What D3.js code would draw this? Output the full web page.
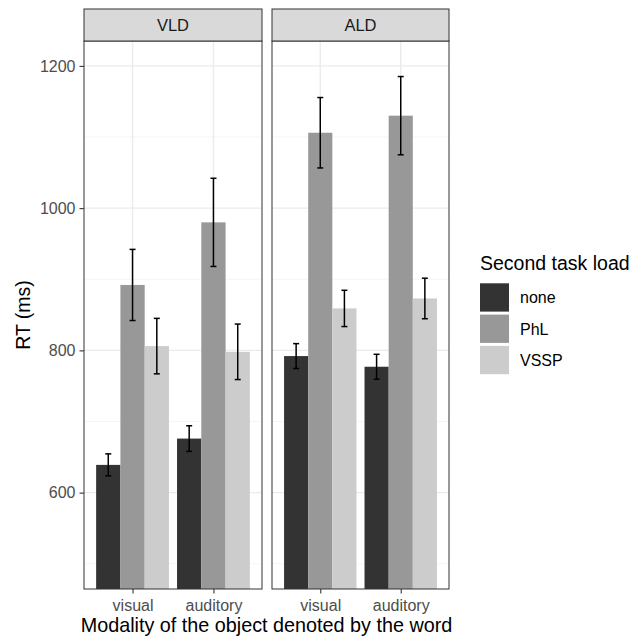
<!DOCTYPE html>
<html>
  <head>
    <meta charset="UTF-8" />
    <title>RT by modality and second task load</title>
    <style>
      body { margin: 0; background: #fff; }
      text { font-family: 'Liberation Sans', Arial, sans-serif; }
    </style>
  </head>
  <body>
    <svg width="644" height="638"></svg>
    <script src="https://cdnjs.cloudflare.com/ajax/libs/d3/7.8.5/d3.min.js"></script>
    <script>
      const tasks = ['VLD', 'ALD'];
      const modalities = ['visual', 'auditory'];
      const loads = ['none', 'PhL', 'VSSP'];
      const loadColors = ['#333333', '#989898', '#cccccc'];

      // mean RT per task -> modality -> load (none, PhL, VSSP)
      const rtVLDvisual = [639, 892, 806];
      const rtVLDauditory = [676, 980, 798];
      const rtALDvisual = [792, 1106, 859];
      const rtALDauditory = [777, 1130, 873];

      // half-width of error bars
      const errVLDvisual = [15.5, 50, 39];
      const errVLDauditory = [18, 62, 39];
      const errALDvisual = [17.5, 49.5, 25.5];
      const errALDauditory = [17.5, 55, 28.5];

      const yTicks = [600, 800, 1000, 1200];
      const yMinor = [500, 700, 900, 1100];

      const rows = [];
      const addRows = (task, modality, rt, err) => {
        loads.forEach((load, i) => {
          rows.push({ task, modality, load, rt: rt[i], err: err[i] });
        });
      };
      addRows('VLD', 'visual', rtVLDvisual, errVLDvisual);
      addRows('VLD', 'auditory', rtVLDauditory, errVLDauditory);
      addRows('ALD', 'visual', rtALDvisual, errALDvisual);
      addRows('ALD', 'auditory', rtALDauditory, errALDauditory);

      const svg = d3.select('svg');
      const fontFamily = "'Liberation Sans', Arial, sans-serif";
      const tickSize = 16;

      const panelTop = 41;
      const panelBottom = 589;
      const stripTop = 9;
      const panelX = [
        [84, 262],
        [272, 449],
      ];

      const yScale = d3
        .scaleLinear()
        .domain([464.5, 1235])
        .range([panelBottom, panelTop]);

      const colorScale = d3.scaleOrdinal().domain(loads).range(loadColors);

      tasks.forEach((task, ti) => {
        const [x0, x1] = panelX[ti];
        const xScale = d3
          .scalePoint()
          .domain(modalities)
          .range([x0, x1])
          .padding(0.6);
        const step = xScale.step();
        const dodge = d3
          .scaleBand()
          .domain(loads)
          .range([-0.45 * step, 0.45 * step]);

        const g = svg.append('g');

        // panel background and grid
        g.append('rect')
          .attr('x', x0)
          .attr('y', panelTop)
          .attr('width', x1 - x0)
          .attr('height', panelBottom - panelTop)
          .attr('fill', '#fff');

        g.selectAll('.minor')
          .data(yMinor)
          .enter()
          .append('line')
          .attr('x1', x0)
          .attr('x2', x1)
          .attr('y1', (d) => yScale(d))
          .attr('y2', (d) => yScale(d))
          .attr('stroke', '#f2f2f2')
          .attr('stroke-width', 0.8);

        g.selectAll('.major')
          .data(yTicks)
          .enter()
          .append('line')
          .attr('x1', x0)
          .attr('x2', x1)
          .attr('y1', (d) => yScale(d))
          .attr('y2', (d) => yScale(d))
          .attr('stroke', '#ebebeb')
          .attr('stroke-width', 1.4);

        g.selectAll('.vgrid')
          .data(modalities)
          .enter()
          .append('line')
          .attr('x1', (d) => xScale(d))
          .attr('x2', (d) => xScale(d))
          .attr('y1', panelTop)
          .attr('y2', panelBottom)
          .attr('stroke', '#ebebeb')
          .attr('stroke-width', 1.4);

        const data = rows.filter((d) => d.task === task);

        g.selectAll('.bar')
          .data(data)
          .enter()
          .append('rect')
          .attr('x', (d) => xScale(d.modality) + dodge(d.load))
          .attr('y', (d) => yScale(d.rt))
          .attr('width', dodge.bandwidth())
          .attr('height', (d) => panelBottom - yScale(d.rt))
          .attr('fill', (d) => colorScale(d.load));

        const cx = (d) => xScale(d.modality) + dodge(d.load) + dodge.bandwidth() / 2;
        const cap = 3;

        const eb = g.selectAll('.err').data(data).enter().append('g');
        eb.append('line')
          .attr('x1', cx)
          .attr('x2', cx)
          .attr('y1', (d) => yScale(d.rt + d.err))
          .attr('y2', (d) => yScale(d.rt - d.err))
          .attr('stroke', '#000')
          .attr('stroke-width', 1.5);
        eb.append('line')
          .attr('x1', (d) => cx(d) - cap)
          .attr('x2', (d) => cx(d) + cap)
          .attr('y1', (d) => yScale(d.rt + d.err))
          .attr('y2', (d) => yScale(d.rt + d.err))
          .attr('stroke', '#000')
          .attr('stroke-width', 1.5);
        eb.append('line')
          .attr('x1', (d) => cx(d) - cap)
          .attr('x2', (d) => cx(d) + cap)
          .attr('y1', (d) => yScale(d.rt - d.err))
          .attr('y2', (d) => yScale(d.rt - d.err))
          .attr('stroke', '#000')
          .attr('stroke-width', 1.5);

        // panel border
        g.append('rect')
          .attr('x', x0)
          .attr('y', panelTop)
          .attr('width', x1 - x0)
          .attr('height', panelBottom - panelTop)
          .attr('fill', 'none')
          .attr('stroke', '#333')
          .attr('stroke-width', 1);

        // strip
        g.append('rect')
          .attr('x', x0)
          .attr('y', stripTop)
          .attr('width', x1 - x0)
          .attr('height', panelTop - stripTop)
          .attr('fill', '#d9d9d9')
          .attr('stroke', '#333')
          .attr('stroke-width', 1);
        g.append('text')
          .attr('x', (x0 + x1) / 2)
          .attr('y', 31)
          .attr('text-anchor', 'middle')
          .attr('font-size', 16.5)
          .attr('fill', '#1a1a1a')
          .text(task);

        // x axis
        const xAxisG = svg
          .append('g')
          .attr('transform', `translate(0,${panelBottom})`)
          .call(d3.axisBottom(xScale).tickSize(4.5).tickPadding(6));
        xAxisG.select('.domain').remove();
        xAxisG.selectAll('.tick line').attr('stroke', '#333').attr('stroke-width', 1.1);
        xAxisG
          .selectAll('.tick text')
          .attr('font-size', tickSize)
          .attr('font-family', fontFamily)
          .attr('fill', '#4d4d4d');
      });

      // y axis
      const yAxisG = svg
        .append('g')
        .attr('transform', `translate(${panelX[0][0]},0)`)
        .call(
          d3
            .axisLeft(yScale)
            .tickValues(yTicks)
            .tickFormat(d3.format('d'))
            .tickSize(4.5)
            .tickPadding(4)
        );
      yAxisG.select('.domain').remove();
      yAxisG.selectAll('.tick line').attr('stroke', '#333').attr('stroke-width', 1.1);
      yAxisG
        .selectAll('.tick text')
        .attr('font-size', tickSize)
        .attr('font-family', fontFamily)
        .attr('fill', '#4d4d4d');

      svg.append('text')
        .attr('transform', `translate(30,${(panelTop + panelBottom) / 2}) rotate(-90)`)
        .attr('text-anchor', 'middle')
        .attr('font-size', 19.5)
        .attr('fill', '#000')
        .text('RT (ms)');

      svg.append('text')
        .attr('x', (panelX[0][0] + panelX[1][1]) / 2)
        .attr('y', 631.5)
        .attr('text-anchor', 'middle')
        .attr('font-size', 19.8)
        .attr('fill', '#000')
        .text('Modality of the object denoted by the word');

      // legend
      const legend = svg.append('g').attr('transform', 'translate(480,0)');
      legend.append('text')
        .attr('x', 0)
        .attr('y', 269.5)
        .attr('font-size', 19.5)
        .attr('fill', '#000')
        .text('Second task load');

      const keyY = d3.scaleBand().domain(loads).range([281.8, 375.7]);
      legend.selectAll('.key')
        .data(loads)
        .enter()
        .append('rect')
        .attr('x', 0)
        .attr('y', (d) => keyY(d) + 1.5)
        .attr('width', 29)
        .attr('height', keyY.bandwidth() - 3)
        .attr('fill', (d) => colorScale(d));
      legend.selectAll('.lab')
        .data(loads)
        .enter()
        .append('text')
        .attr('x', 40)
        .attr('y', (d) => keyY(d) + keyY.bandwidth() / 2 + 5.8)
        .attr('font-size', 16)
        .attr('fill', '#000')
        .text((d) => d);
    </script>
  </body>
</html>
